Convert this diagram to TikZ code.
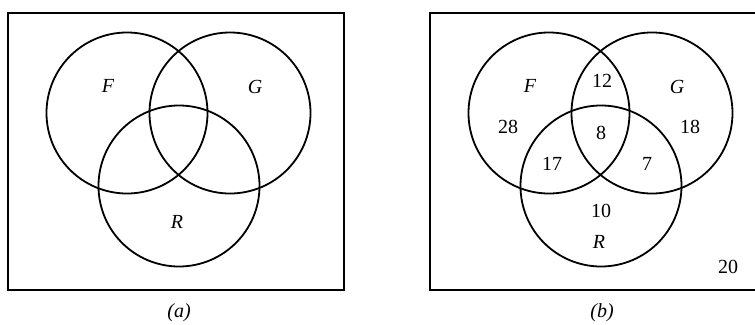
\documentclass[tikz,border=0pt]{standalone}
\usepackage{fontspec}
\setmainfont{Liberation Serif}
\begin{document}
\begin{tikzpicture}[x=1pt,y=-1pt,
  setc/.style={draw, circle, line width=1.8pt, minimum size=161pt, inner sep=0pt},
  frame/.style={draw, line width=2.2pt},
  lbl/.style={inner sep=0pt, font=\fontsize{20}{22}\selectfont\itshape},
  num/.style={inner sep=0pt, font=\fontsize{20}{22}\selectfont}]
\useasboundingbox (0,0) rectangle (755,324);
\clip (0,0) rectangle (755,324);
% panel (a)
\draw[frame] (8.3,13.3) rectangle (344,290);
\node[setc] (Fa) at (127,113) {};
\node[setc] (Ga) at (230,113) {};
\node[setc] (Ra) at (179,186) {};
\node[lbl] (fa) at (108,86) {F};
\node[lbl] (ga) at (255,87) {G};
\node[lbl] (ra) at (177,222) {R};
\node[lbl] (capa) at (179,313) {(a)};
% panel (b)
\draw[frame] (430.3,13.3) rectangle (766,290);
\node[setc] (Fb) at (549,113) {};
\node[setc] (Gb) at (652,113) {};
\node[setc] (Rb) at (601,186) {};
\node[lbl] (fb) at (530,86) {F};
\node[lbl] (gb) at (677,87) {G};
\node[lbl] (rb) at (599,242) {R};
\node[num] (n12) at (602,81) {12};
\node[num] (n28) at (508,127) {28};
\node[num] (n8) at (601,133) {8};
\node[num] (n18) at (690,127) {18};
\node[num] (n17) at (552,164) {17};
\node[num] (n7) at (647,164) {7};
\node[num] (n10) at (601,211) {10};
\node[num] (n20) at (728,267) {20};
\node[lbl] (capb) at (602,313) {(b)};
\end{tikzpicture}
\end{document}
